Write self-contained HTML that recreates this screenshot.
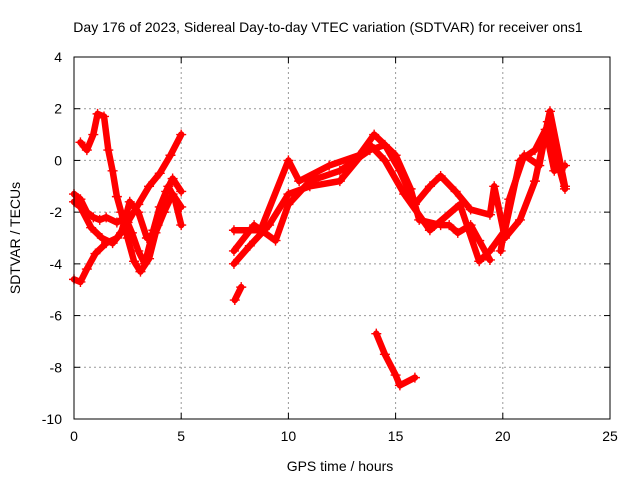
<!DOCTYPE html>
<html><head><meta charset="utf-8"><style>
body{margin:0;background:#fff;}
svg text{font-family:"Liberation Sans",sans-serif;font-size:14px;fill:#000;}
</style></head><body>
<svg id="chart" width="640" height="480" xmlns="http://www.w3.org/2000/svg">
<rect width="640" height="480" fill="#fff"/>
<text x="328" y="32" text-anchor="middle">Day 176 of 2023, Sidereal Day-to-day VTEC variation (SDTVAR) for receiver ons1</text>
<text x="340" y="471" text-anchor="middle">GPS time / hours</text>
<text transform="translate(20,238) rotate(-90)" text-anchor="middle">SDTVAR / TECUs</text>
<g id="grid"></g><g id="ticks"></g><g id="series"></g>
<rect x="74" y="57" width="536" height="362" fill="none" stroke="#000" stroke-width="1"/>
</svg>
<script>
const xTicks=[0,5,10,15,20,25];
const yTicks=[4,2,0,-2,-4,-6,-8,-10];
const s1t=[0,0.3,0.6,1.0,1.5,2.0,2.5,3.0,3.5,4.0,4.5,5.0];
const s1v=[-4.6,-4.7,-4.2,-3.6,-3.2,-3.0,-2.4,-1.7,-1.0,-0.5,0.2,1.0];
const s2t=[0,0.3,0.6,0.9,1.2,1.5,2.0,2.4,2.7,3.0,3.3,3.7,4.0,4.4,4.7,5.0];
const s2v=[-1.3,-1.5,-2.0,-2.2,-2.3,-2.2,-2.4,-2.2,-2.8,-3.5,-4.0,-2.7,-1.8,-1.0,-1.5,-2.5];
const s3t=[0.3,0.6,0.9,1.1,1.4,1.6,1.8,2.0,2.2,2.5,2.8,3.1,3.5,3.9,4.3,4.6,5.0];
const s3v=[0.7,0.4,1.0,1.8,1.7,0.4,-0.4,-1.4,-2.0,-3.0,-3.9,-4.3,-3.8,-2.5,-1.2,-0.7,-1.2];
const s4t=[0,0.3,0.8,1.3,1.8,2.2,2.6,3.0,3.4,3.8,4.2,4.6,5.0];
const s4v=[-1.6,-1.8,-2.6,-3.0,-3.2,-2.8,-1.6,-2.0,-3.0,-2.8,-2.0,-1.3,-1.8];
const s5t=[7.46,8.7,10,10.5,11.9,13.3,14,15,15.7,16.1,17.1,17.5,17.9,18.5,18.9,19.4];
const s5v=[-2.7,-2.7,0,-0.8,-0.2,0.2,1.0,0.2,-1.1,-2.3,-2.5,-2.5,-2.8,-2.5,-3.1,-3.85];
const s6t=[7.46,8.4,9.4,10,11,12.4,13.8,14.5,15.2,15.9,16.6,17.1,17.8,18.5,19.4,19.6,20.1,20.8,21.5,22.2,22.9];
const s6v=[-3.5,-2.5,-3.1,-1.7,-0.8,-0.4,0.4,0.6,-0.4,-1.7,-1.0,-0.6,-1.2,-1.9,-2.1,-1.0,-3.0,-2.3,-0.8,1.9,-1.0];
const s7t=[7.46,8.2,9.1,10,11,12.4,13.8,14.5,15.4,16.6,18,18.9,19.4,20.1,20.8,21.5,22,22.4,22.9];
const s7v=[-4.0,-3.3,-2.5,-1.3,-1.0,-0.8,0.6,0,-1.3,-2.7,-1.7,-3.9,-3.5,-2.7,0,0.4,1.2,-0.4,-0.2];
const s8t=[7.5,7.8];
const s8v=[-5.4,-4.9];
const s9t=[14.1,14.5,15.0,15.2,15.9];
const s9v=[-6.7,-7.5,-8.3,-8.7,-8.4];
const s10t=[19.9,20.3,21,21.7,22.1,22.6,22.9];
const s10v=[-3.5,-1.5,0.2,-0.2,1.5,-0.2,-1.1];
const seriesT=[s1t,s2t,s3t,s4t,s5t,s6t,s7t,s8t,s9t,s10t];
const seriesV=[s1v,s2v,s3v,s4v,s5v,s6v,s7v,s8v,s9v,s10v];
const X=t=>74+t*(536/25);
const Y=v=>57+(4-v)*(362/14);
const NS="http://www.w3.org/2000/svg";
function mk(tag,attrs,parent){const e=document.createElementNS(NS,tag);for(const k in attrs)e.setAttribute(k,attrs[k]);parent.appendChild(e);return e;}
const grid=document.getElementById('grid'),ticks=document.getElementById('ticks'),ser=document.getElementById('series');
xTicks.forEach(t=>{const x=X(t);
 if(t>0&&t<25){const g=mk('line',{x1:x,x2:x,y1:57,y2:419,stroke:'#999','stroke-dasharray':'2,3'},grid);
 
 }
 mk('line',{x1:x,x2:x,y1:419,y2:413,stroke:'#000'},ticks);mk('line',{x1:x,x2:x,y1:57,y2:63,stroke:'#000'},ticks);
 const l=mk('text',{x:x,y:441,'text-anchor':'middle'},ticks);l.textContent=t;
 
 });
yTicks.forEach(v=>{const y=Y(v);
 if(v<4&&v>-10){const g=mk('line',{x1:74,x2:610,y1:y,y2:y,stroke:'#999','stroke-dasharray':'2,3'},grid);
 
 }
 mk('line',{x1:74,x2:80,y1:y,y2:y,stroke:'#000'},ticks);mk('line',{x1:610,x2:604,y1:y,y2:y,stroke:'#000'},ticks);
 const l=mk('text',{x:62,y:y+5,'text-anchor':'end'},ticks);l.textContent=v;
 
 });
seriesT.forEach((ts,i)=>{const vs=seriesV[i];
 const g=mk('g',{},ser);
 
 
 const pts=ts.map((t,j)=>X(t)+','+Y(vs[j])).join(' ');
 mk('polyline',{points:pts,fill:'none',stroke:'#f00','stroke-width':6.5,'stroke-linejoin':'round','stroke-linecap':'round'},g);
 ts.forEach((t,j)=>{const x=X(t),y=Y(vs[j]);
  mk('path',{d:`M${x-5},${y}H${x+5}M${x},${y-5}V${y+5}`,stroke:'#f00','stroke-width':1.4},g);});
});
</script>
</body></html>
